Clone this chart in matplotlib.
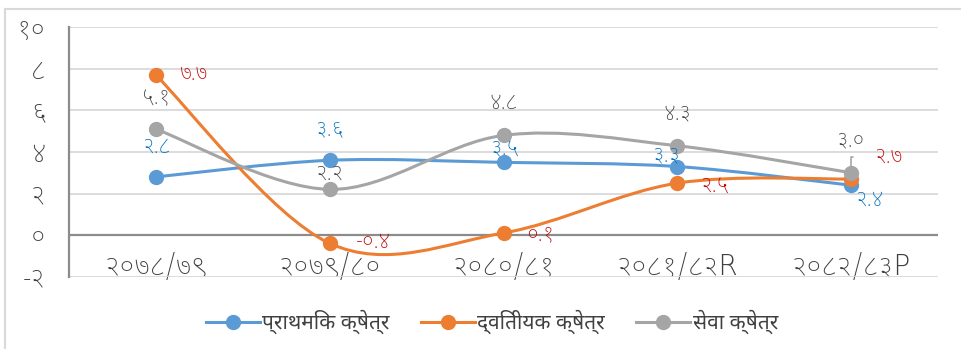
import matplotlib
matplotlib.use('Agg')
import matplotlib.pyplot as plt
from matplotlib.path import Path
from matplotlib.patches import PathPatch
from matplotlib.lines import Line2D

plt.rcParams['font.family'] = ['Noto Sans Devanagari', 'DejaVu Sans']
num_font = ['Noto Sans Devanagari UI', 'DejaVu Sans']

# data
categories = ['२०७८/७९', '२०७९/८०', '२०८०/८१', '२०८१/८२R', '२०८२/८३P']
primary = [2.8, 3.6, 3.5, 3.3, 2.4]
secondary = [7.7, -0.4, 0.1, 2.5, 2.7]
services = [5.1, 2.2, 4.8, 4.3, 3.0]
series_names = ['प्राथमिक क्षेत्र', 'द्वितीयक क्षेत्र', 'सेवा क्षेत्र']
yticks = [-2, 0, 2, 4, 6, 8, 10]
ytick_labels = ['-२', '०', '२', '४', '६', '८', '१०']

dev = str.maketrans('0123456789', '०१२३४५६७८९')


def smooth_path(xs, ys):
    # excel style smoothed line (catmull-rom as bezier)
    pts = list(zip(xs, ys))
    n = len(pts)
    verts = [pts[0]]
    codes = [Path.MOVETO]
    for i in range(n - 1):
        p0 = pts[i - 1] if i > 0 else pts[i]
        p1 = pts[i]
        p2 = pts[i + 1]
        p3 = pts[i + 2] if i + 2 < n else pts[i + 1]
        c1 = (p1[0] + (p2[0] - p0[0]) / 6, p1[1] + (p2[1] - p0[1]) / 6)
        c2 = (p2[0] - (p3[0] - p1[0]) / 6, p2[1] - (p3[1] - p1[1]) / 6)
        verts += [c1, c2, p2]
        codes += [Path.CURVE4] * 3
    return Path(verts, codes)


fig = plt.figure(figsize=(9.61, 3.49), dpi=100)
ax = fig.add_axes([69 / 961, 1 - 277 / 349, 869 / 961, 250 / 349])

x = list(range(len(categories)))
colors = ['#5B9BD5', '#ED7D31', '#A5A5A5']
label_colors = ['#0070C0', '#C00000', '#404040']
all_series = [primary, secondary, services]

# label offsets in pixels (dx, dy)
offsets = [
    [(0, 30), (0, 31), (2, 13), (-10, 11), (18, -14)],
    [(37, 1), (44, 1), (37, -1), (37, -3), (37, 22)],
    [(0, 31), (0, 16), (0, 32), (0, 32), (0, 32)],
]

for k, (vals, c, lc) in enumerate(zip(all_series, colors, label_colors)):
    ax.add_patch(PathPatch(smooth_path(x, vals), facecolor='none', edgecolor=c, lw=2.2, zorder=3 + k))
    ax.plot(x, vals, 'o', color=c, markersize=10, zorder=6 + k)
    for i, v in enumerate(vals):
        lbl = f'{v:.1f}'.translate(dev)
        dx, dy = offsets[k][i]
        kw = {}
        if k == 1 and i == 4:
            kw = dict(arrowprops=dict(arrowstyle='-', color='#A6A6A6', lw=1.2, shrinkA=13, shrinkB=7,
                                      connectionstyle='angle,angleA=0,angleB=90,rad=0'))
        ax.annotate(lbl, (i, v), xytext=(dx, dy), textcoords='offset pixels', ha='center', va='center',
                    color=lc, fontsize=15.5, family=num_font, fontweight='light', zorder=10, **kw)

ax.set_xlim(-0.5, 4.5)
ax.set_ylim(-2.02, 10.02)
ax.set_yticks(yticks)
ax.set_yticklabels(ytick_labels, fontsize=19, color='#404040', family=num_font, fontweight='light')
ax.set_xticks(x)
ax.set_xticklabels(categories, fontsize=20, color='#404040', va='center', family=num_font,
                   fontweight='light')
ax.tick_params(axis='y', length=0, pad=17)
ax.tick_params(axis='x', length=0, pad=-7.5)
ax.grid(axis='y', color='#D9D9D9', lw=1.3)
ax.set_axisbelow(True)
ax.axhline(0, color='#8C8C8C', lw=1.6, zorder=2)
for s in ['top', 'right', 'bottom']:
    ax.spines[s].set_visible(False)
ax.spines['left'].set_color('#8C8C8C')
ax.spines['left'].set_linewidth(1.6)

# outer chart border
fig.add_artist(Line2D([5 / 961, 5 / 961], [0, 1 - 9 / 349], color='#D9D9D9', lw=1.5))
fig.add_artist(Line2D([5 / 961, 1], [1 - 9 / 349, 1 - 9 / 349], color='#D9D9D9', lw=1.5))

handles = [Line2D([], [], color=c, lw=2.2, marker='o', markersize=10) for c in colors]
fig.legend(handles, series_names, loc='center', bbox_to_anchor=(492 / 961, 1 - 322 / 349), ncol=3,
           frameon=False, handlelength=2.6, handletextpad=0.1, columnspacing=1.5,
           prop={'size': 15}, labelcolor='#404040')

fig.savefig('out.png', dpi=100)
